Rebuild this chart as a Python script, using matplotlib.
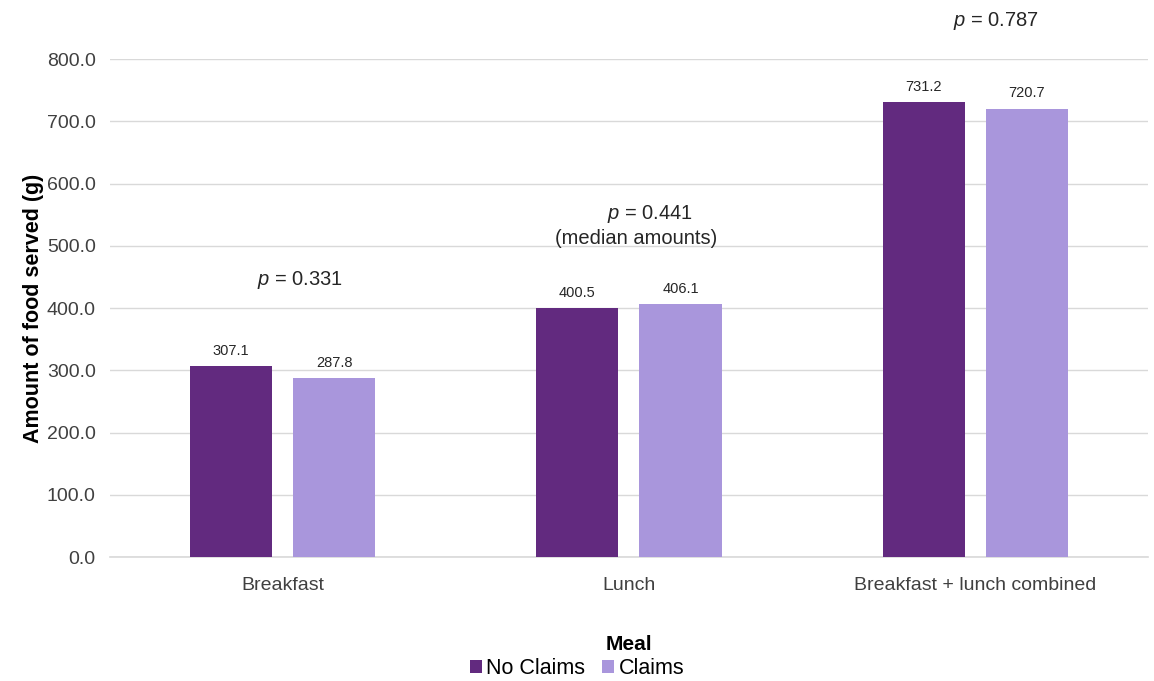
import matplotlib
matplotlib.use("Agg")
import matplotlib.pyplot as plt
import numpy as np

categories = ["Breakfast", "Lunch", "Breakfast + lunch combined"]
no_claims = [307.1, 400.5, 731.2]
claims = [287.8, 406.1, 720.7]
series_names = ["No Claims", "Claims"]
p_labels = ["0.331", "0.441", "0.787"]

plt.rcParams['font.family'] = ['Liberation Sans', 'DejaVu Sans']
plt.rcParams['mathtext.fontset'] = 'custom'
plt.rcParams['mathtext.it'] = 'Liberation Sans:italic'
plt.rcParams['mathtext.rm'] = 'Liberation Sans'

dark = "#622A7F"
light = "#A996DC"
txt = "#262626"

fig = plt.figure(figsize=(11.54, 6.81), dpi=100)
ax = fig.add_axes([0.095, 0.182, 0.9, 0.731])

x = np.arange(len(categories))
w = 0.237
off = 0.149
b1 = ax.bar(x - off, no_claims, w, color=dark, label=series_names[0], zorder=3)
b2 = ax.bar(x + off, claims, w, color=light, label=series_names[1], zorder=3)

for bars in (b1, b2):
    for r in bars:
        ax.annotate(f"{r.get_height():.1f}", (r.get_x() + r.get_width() / 2, r.get_height()),
                    xytext=(0, 6), textcoords="offset points", ha="center", va="bottom",
                    fontsize=10.5, color=txt)

ax.set_xlim(-0.5, 2.5)
ax.set_ylim(0, 800)
ax.set_yticks(np.arange(0, 801, 100))
ax.set_yticklabels([f"{v:.1f}" for v in np.arange(0, 801, 100)])
ax.set_xticks(x)
ax.set_xticklabels(categories)
ax.tick_params(axis='both', length=0, labelsize=14, colors="#404040", pad=10)
ax.tick_params(axis='x', pad=14)
ax.grid(axis='y', color="#d9d9d9", linewidth=1, zorder=0)
ax.axhline(0, color="#d9d9d9", linewidth=1.2, zorder=1, clip_on=False)
for s in ax.spines.values():
    s.set_visible(False)

ax.set_ylabel("Amount of food served (g)", fontsize=15.5, fontweight='bold', color="black", labelpad=2)
ax.set_xlabel("Meal", fontsize=15, fontweight='bold', color="black", labelpad=30)

# p-value annotations
ax.text(0.05, 445, r"$\it{p}$ = " + p_labels[0], ha="center", va="center", fontsize=14.5, color=txt, clip_on=False)
ax.text(1.06, 552, r"$\it{p}$ = " + p_labels[1], ha="center", va="center", fontsize=14.5, color=txt, clip_on=False)
ax.text(1.02, 512, "(median amounts)", ha="center", va="center", fontsize=14.5, color=txt, clip_on=False)
ax.text(2.06, 862, r"$\it{p}$ = " + p_labels[2], ha="center", va="center", fontsize=14.5, color=txt, clip_on=False)

fig.legend(handles=[b1, b2], labels=series_names, loc="center", bbox_to_anchor=(0.5, 0.018),
           ncol=2, frameon=False, fontsize=15.5, handlelength=0.55, handleheight=0.55,
           handletextpad=0.2, columnspacing=0.8)

fig.savefig("out.png", dpi=100, facecolor="white")
